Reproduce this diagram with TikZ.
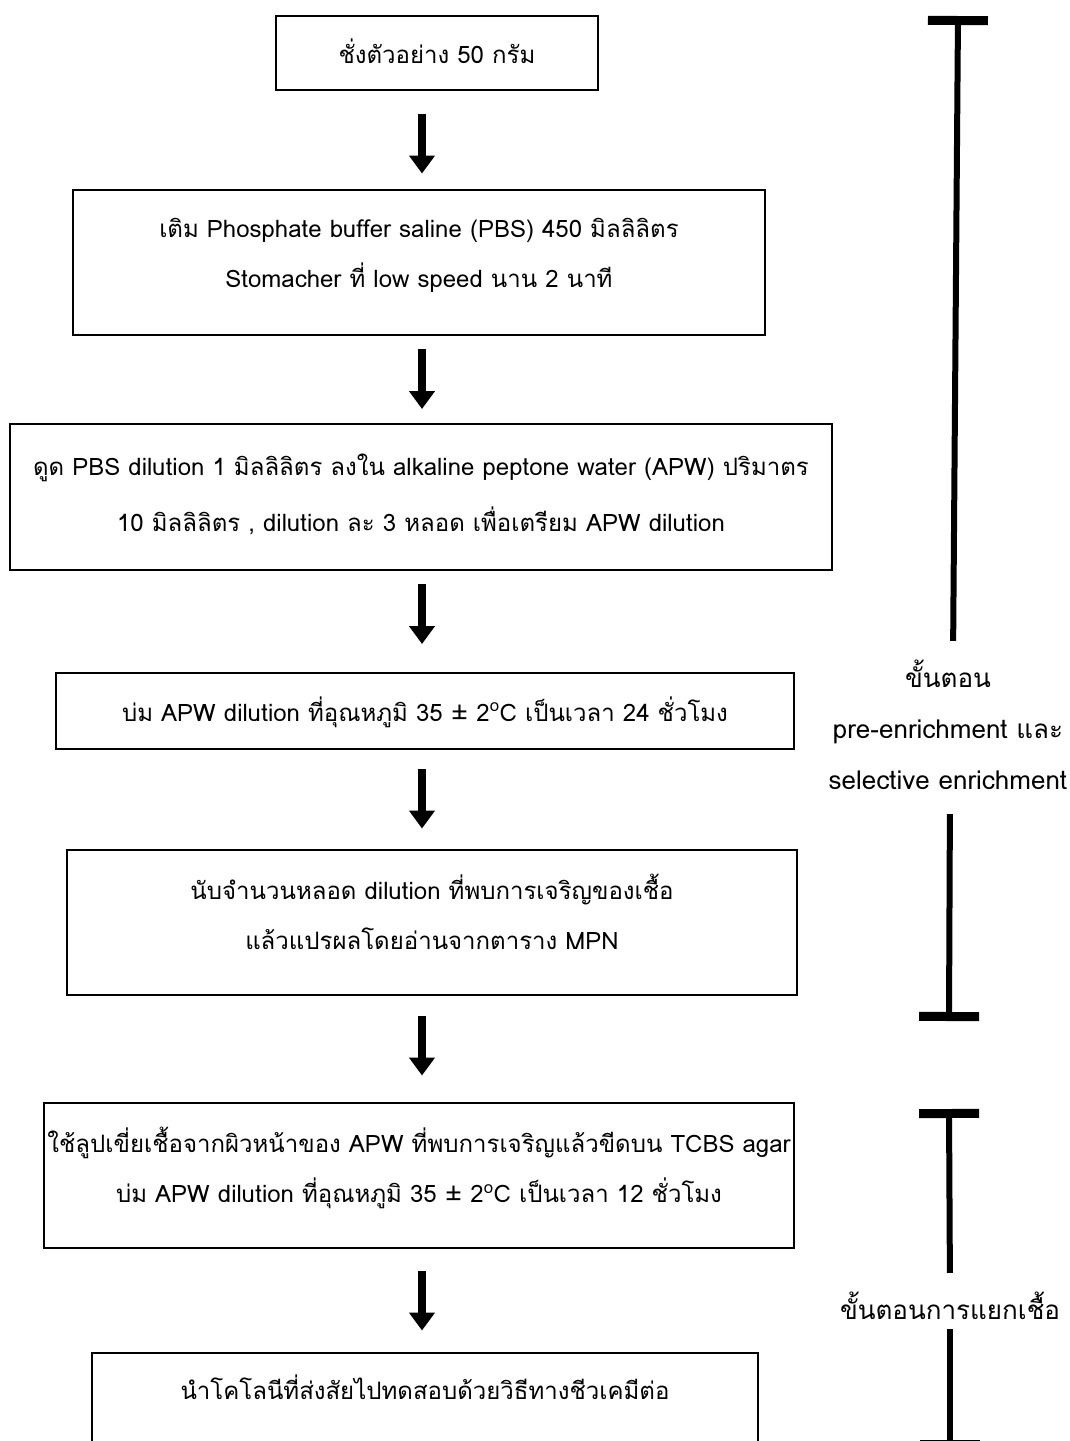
\documentclass[tikz,border=0pt]{standalone}
\usepackage{fontspec}
\setmainfont[Script=Thai]{Loma}
\usetikzlibrary{arrows.meta}

\tikzset{
  stepbox/.style={draw, line width=2pt, align=center, inner sep=0pt,
    font=\fontsize{24}{50}\selectfont},
  flow/.style={line width=8pt, -{Triangle[width=25pt,length=18pt]}},
  stagebar/.style={line width=6pt},
  stagecap/.style={{Bar[width=60pt,line width=9pt]}-},
  stagelabel/.style={align=center, inner sep=0pt, font=\fontsize{26}{51}\selectfont},
}

\begin{document}
\begin{tikzpicture}[x=1pt,y=-1pt]
  \useasboundingbox (0,0) rectangle (1069,1441);
  \clip (0,0) rectangle (1069,1441);
  \coordinate (ax) at (422,0);

  % steps
  \node[stepbox, minimum width=322pt, text height=47pt, text depth=27pt] (b1) at (437,53) {ชั่งตัวอย่าง 50 กรัม};
  \node[stepbox, minimum width=692pt, text height=98pt, text depth=47pt] (b2) at (419,262) {เติม Phosphate buffer saline (PBS) 450 มิลลิลิตร\\ Stomacher ที่ low speed นาน 2 นาที};
  \node[stepbox, minimum width=822pt, text height=107pt, text depth=39pt, font=\fontsize{24}{56}\selectfont] (b3) at (421,497) {ดูด PBS dilution 1 มิลลิลิตร ลงใน alkaline peptone water (APW) ปริมาตร\\ 10 มิลลิลิตร , dilution ละ 3 หลอด เพื่อเตรียม APW dilution};
  \node[stepbox, minimum width=738pt, text height=48pt, text depth=28pt] (b4) at (425,711) {บ่ม APW dilution ที่อุณหภูมิ 35 ± 2\textsuperscript{o}C เป็นเวลา 24 ชั่วโมง};
  \node[stepbox, minimum width=730pt, text height=100pt, text depth=45pt] (b5) at (432,922) {นับจำนวนหลอด dilution ที่พบการเจริญของเชื้อ\\ แล้วแปรผลโดยอ่านจากตาราง MPN};
  \node[stepbox, minimum width=750pt, text height=100pt, text depth=45pt] (b6) at (419,1175) {ใช้ลูปเขี่ยเชื้อจากผิวหน้าของ APW ที่พบการเจริญแล้วขีดบน TCBS agar\\ บ่ม APW dilution ที่อุณหภูมิ 35 ± 2\textsuperscript{o}C เป็นเวลา 12 ชั่วโมง};
  \node[stepbox, minimum width=666pt, text height=47pt, text depth=98pt] (b7) at (425,1425) {นำโคโลนีที่ส่งสัยไปทดสอบด้วยวิธีทางชีวเคมีต่อ};

  \draw[flow, shorten <=23pt, shorten >=15pt] (b1.south -| ax) -- (b2.north -| ax);
  \draw[flow, shorten <=13pt, shorten >=14pt] (b2.south -| ax) -- (b3.north -| ax);
  \draw[flow, shorten <=13pt, shorten >=28pt] (b3.south -| ax) -- (b4.north -| ax);
  \draw[flow, shorten <=19pt, shorten >=20pt] (b4.south -| ax) -- (b5.north -| ax);
  \draw[flow, shorten <=20pt, shorten >=26pt] (b5.south -| ax) -- (b6.north -| ax);
  \draw[flow, shorten <=22pt, shorten >=21pt] (b6.south -| ax) -- (b7.north -| ax);

  % stages
  \node[stagelabel] (s1) at (948,725) {ขั้นตอน\\ pre-enrichment และ\\ selective enrichment};
  \node[stagelabel] (s2) at (950,1306) {ขั้นตอนการแยกเชื้อ};
  \coordinate (s1top) at (958,16);
  \coordinate (s1bot) at (949,1021);
  \coordinate (s2top) at (949,1109);
  \coordinate (s2bot) at (950,1449);

  \draw[stagebar, stagecap, shorten >=19pt] (s1top) -- ([xshift=5pt]s1.north);
  \draw[stagebar, stagecap, shorten >=24pt] (s1bot) -- ([xshift=2pt]s1.south);
  \draw[stagebar, stagecap, shorten >=19pt] (s2top) -- (s2.north);
  \draw[stagebar, stagecap, shorten >=9pt] (s2bot) -- (s2.south);
\end{tikzpicture}
\end{document}
